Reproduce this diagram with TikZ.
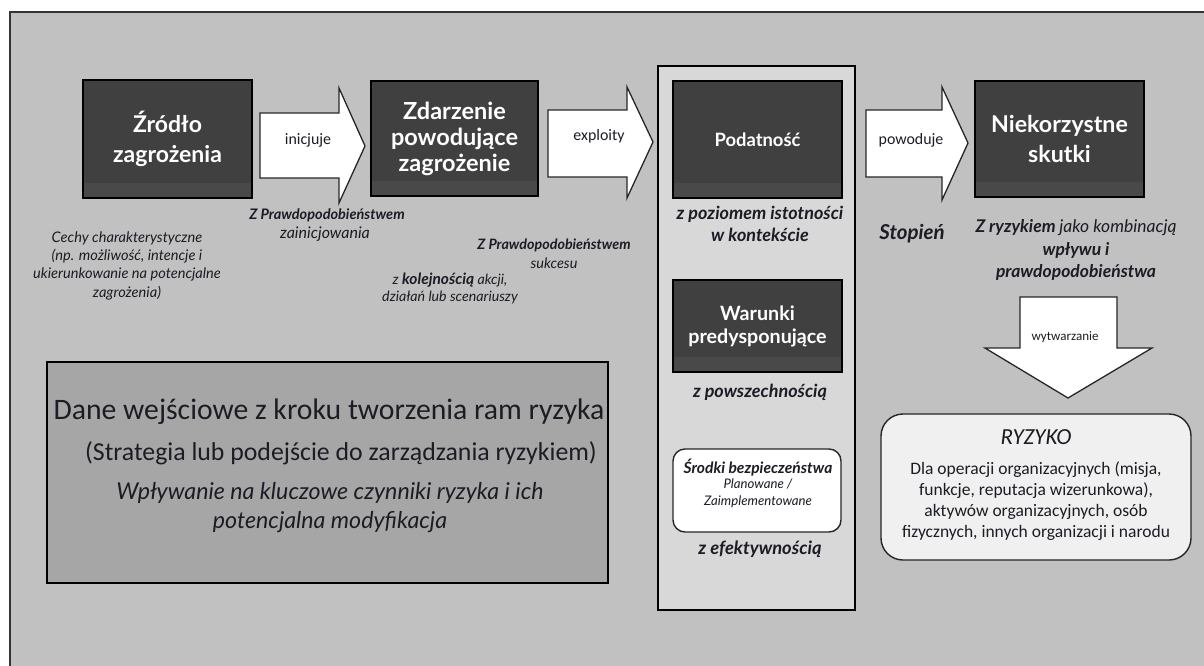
\documentclass[tikz,border=0pt]{standalone}
\usepackage{fontspec}
\setmainfont{Lato}
\newfontfamily\carl{Carlito}
\definecolor{bg}{HTML}{C1C1C1}
\definecolor{panelgray}{HTML}{D8D8D8}
\definecolor{boxgray}{HTML}{404040}
\definecolor{boxband}{HTML}{494949}
\definecolor{inputgray}{HTML}{A6A6A6}
\definecolor{ink}{HTML}{1C1C24}
\newcommand{\fs}[2]{\fontsize{#1}{#2}\selectfont}
\tikzset{
  darkbox/.style={draw=black, line width=2pt, fill=boxgray, text=white, align=center, inner sep=0pt,
    path picture={\fill[boxband] ([yshift=15pt]path picture bounding box.south west) rectangle (path picture bounding box.south east);}},
  blockarrow/.style={draw=black!85, line width=1.3pt, fill=white, line join=miter},
  note/.style={text=ink, align=center, inner sep=0pt},
  lbl/.style={text=ink, inner sep=0pt, font=\carl\fs{15.9}{18}},
}
\begin{document}
\begin{tikzpicture}[x=1pt,y=-1pt]
\useasboundingbox (0,0) rectangle (1204,666);
\fill[white] (0,0) rectangle (1204,666);
% frame
\fill[bg] (10,12) rectangle (1204,666);
\draw[black!80, line width=1.5pt] (10,666) -- (10,12) -- (1204,12);

% central panel
\node[draw=black, line width=1.6pt, fill=panelgray, minimum width=197pt, minimum height=544pt, inner sep=0pt] (panel) at (756.5,338) {};

% main boxes
\node[darkbox, minimum width=169pt, minimum height=118pt, font=\bfseries\fs{23}{30}] (src) at (167.5,139) {Źródło\\zagrożenia};
\node[darkbox, minimum width=167pt, minimum height=115pt, font=\bfseries\fs{23.5}{26}] (evt) at (454.5,138.5) {Zdarzenie\\powodujące\\zagrożenie};
\node[darkbox, minimum width=169pt, minimum height=117pt, font=\bfseries\fs{18.4}{22}] (vuln) at (757.5,139.5) {Podatność};
\node[darkbox, minimum width=169pt, minimum height=92pt, font=\bfseries\fs{19.7}{23}] (cond) at (757.5,326) {Warunki\\predysponujące};
\node[darkbox, minimum width=169pt, minimum height=116pt, font=\bfseries\fs{23.2}{30}] (adv) at (1059.5,139) {Niekorzystne\\skutki};
\node[draw=black!85, line width=1.4pt, fill=white, rounded corners=12pt, minimum width=168pt, minimum height=83pt, inner sep=0pt] (ctrl) at (757,490.5) {};
\node[note, font=\bfseries\itshape\fs{15.6}{17}] (ctrlhead) at (758,468) {Środki bezpieczeństwa};
\node[note, font=\itshape\fs{13.2}{17}] (ctrltxt) at (758,493.5) {Planowane /\\Zaimplementowane};

% block arrows
\draw[blockarrow] (260,113) -- (339,113) -- (339,88) -- (365,146) -- (339,203) -- (339,178) -- (260,178) -- cycle;
\node[lbl] (a1) at (308,140) {inicjuje};
\draw[blockarrow] (548,110) -- (627,110) -- (627,87) -- (653,142) -- (627,198) -- (627,177) -- (548,177) -- cycle;
\node[lbl] (a2) at (599,136) {exploity};
\draw[blockarrow] (866,110) -- (942,110) -- (942,87) -- (968,143) -- (942,200) -- (942,177) -- (866,177) -- cycle;
\node[lbl] (a3) at (911,140) {powoduje};
\draw[blockarrow] (1020,297) -- (1117,297) -- (1117,348) -- (1152,348) -- (1068,398) -- (985,348) -- (1020,348) -- cycle;
\node[lbl, font=\carl\fs{13}{15}] (a4) at (1065,337) {wytwarzanie};

% annotations
\node[note, font=\itshape\fs{14.6}{18.3}] (traits) at (127,265.5) {Cechy charakterystyczne\\(np. możliwość, intencje i\\ukierunkowanie na potencjalne\\zagrożenia)};
\node[note, font=\bfseries\itshape\fs{14.5}{16}] (pinit) at (327,215) {Z Prawdopodobieństwem};
\node[note, font=\itshape\fs{16}{17}] (pinit2) at (325,234) {zainicjowania};
\node[note, font=\bfseries\itshape\fs{14.3}{16}] (psucc) at (554,245) {Z Prawdopodobieństwem};
\node[note, font=\itshape\fs{14.5}{17}] (psucc2) at (554,263) {sukcesu};
\node[note, font=\itshape\fs{14.2}{17}] (seq) at (450,288.5) {z \textbf{\fontsize{15.5}{17}\selectfont kolejnością} akcji,\\działań lub scenariuszy};
\node[note, font=\bfseries\itshape\fs{18}{22}] (sev) at (760,224) {z poziomem istotności\\w kontekście};
\node[note, font=\bfseries\itshape\fs{18}{20}] (perv) at (760,392) {z powszechnością};
\node[note, font=\bfseries\itshape\fs{18.3}{20}] (eff) at (760,549) {z efektywnością};
\node[note, font=\bfseries\itshape\fs{20.5}{24}] (deg) at (912,234) {Stopień};
\node[note, font=\bfseries\itshape\fs{17.5}{22.5}] (comb) at (1076,250) {Z ryzykiem \textmd{jako kombinacją}\\wpływu i\\prawdopodobieństwa};

% risk box
\node[draw=black!85, line width=1.4pt, fill=white!94!black, rounded corners=22pt, minimum width=310pt, minimum height=146pt, inner sep=0pt] (risk) at (1036,487) {};
\node[note, font=\carl\itshape\fs{23}{26}] (risktitle) at (1036,437) {RYZYKO};
\node[note, font=\carl\fs{17.5}{21}] (risktxt) at (1036,501) {Dla operacji organizacyjnych (misja,\\funkcje, reputacja wizerunkowa),\\aktywów organizacyjnych, osób\\fizycznych, innych organizacji i narodu};

% input box
\node[draw=black, line width=1.6pt, fill=inputgray, minimum width=561pt, minimum height=221pt, inner sep=0pt] (input) at (327.5,472.5) {};
\node[note, font=\carl\fs{29.7}{34}] (in1) at (329,412) {Dane wejściowe z kroku tworzenia ram ryzyka};
\node[note, font=\carl\fs{25.8}{28}] (in2) at (341,453) {(Strategia lub podejście do zarządzania ryzykiem)};
\node[note, font=\itshape\fs{23.2}{29}] (in3) at (330,507.5) {Wpływanie na kluczowe czynniki ryzyka i ich\\potencjalna modyfikacja};
\end{tikzpicture}
\end{document}
